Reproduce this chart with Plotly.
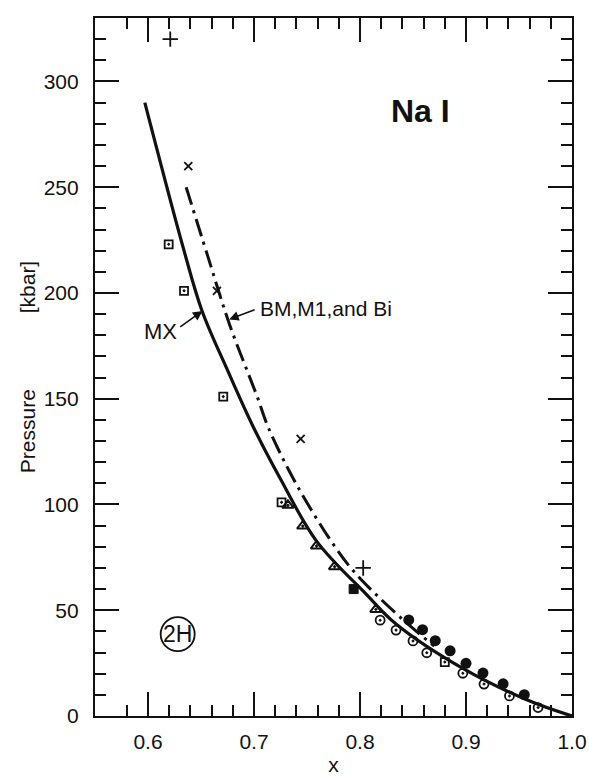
import plotly.graph_objects as go

# Equation-of-state curves for NaI: pressure (kbar) vs relative volume x = V/V0
mx_x = [0.597, 0.634, 0.651, 0.675, 0.699, 0.725, 0.759, 0.806, 0.834, 0.897, 0.959, 1.0]
mx_p = [290, 220, 191.5, 163.5, 137, 112, 82.7, 57.5, 43.5, 22.5, 7.3, 0]

bm_x = [0.636, 0.656, 0.677, 0.703, 0.713, 0.732, 0.751, 0.773, 0.793, 0.816, 0.844, 0.87]
bm_p = [250, 218, 185, 151, 137, 117, 100, 82.5, 69, 57, 44, 33]

# Experimental points
plus_x = [0.621, 0.803]
plus_p = [320, 70]

cross_x = [0.638, 0.665, 0.744]
cross_p = [260, 201, 131]

sq_x = [0.6195, 0.634, 0.671, 0.726, 0.880]
sq_p = [223, 201, 151, 101, 25.5]

sq_fill_x = [0.794]
sq_fill_p = [60]

tri_x = [0.732, 0.746, 0.759, 0.776, 0.815]
tri_p = [99.6, 89.8, 80.4, 70.6, 50.4]

circ_x = [0.819, 0.834, 0.850, 0.863, 0.897, 0.917, 0.941, 0.968]
circ_p = [45.3, 40.6, 35.5, 29.9, 20.2, 15.1, 9.5, 4.0]

dot_x = [0.846, 0.859, 0.871, 0.885, 0.900, 0.916, 0.935, 0.955]
dot_p = [45.4, 40.8, 35.6, 30.8, 24.9, 20.3, 15.2, 10.1]

x_ticks = [0.6, 0.7, 0.8, 0.9, 1.0]
x_labels = ["0.6", "0.7", "0.8", "0.9", "1.0"]
x_minor = [0.58, 0.62, 0.64, 0.66, 0.68, 0.72, 0.74, 0.76, 0.78,
           0.82, 0.84, 0.86, 0.88, 0.92, 0.94, 0.96, 0.98]
y_ticks = [0, 50, 100, 150, 200, 250, 300]

INK = "#111111"
FONT = "Liberation Sans, Arial, sans-serif"

fig = go.Figure()

fig.add_trace(go.Scatter(x=mx_x, y=mx_p, mode="lines", line=dict(color=INK, width=3.2, shape="spline", smoothing=1.0)))
fig.add_trace(go.Scatter(x=bm_x, y=bm_p, mode="lines",
                         line=dict(color=INK, width=3, shape="spline", smoothing=1.0, dash="18px,6px,3px,6px")))

fig.add_trace(go.Scatter(x=plus_x, y=plus_p, mode="markers",
                         marker=dict(symbol="cross-thin-open", size=11, color=INK, line=dict(color=INK, width=1.8))))
fig.add_trace(go.Scatter(x=cross_x, y=cross_p, mode="markers",
                         marker=dict(symbol="x-thin-open", size=8, color=INK, line=dict(color=INK, width=1.8))))
fig.add_trace(go.Scatter(x=sq_x, y=sq_p, mode="markers",
                         marker=dict(symbol="square-open-dot", size=8, color=INK, line=dict(color=INK, width=1.8))))
fig.add_trace(go.Scatter(x=sq_fill_x, y=sq_fill_p, mode="markers",
                         marker=dict(symbol="square", size=9, color=INK, line=dict(color=INK, width=1))))
fig.add_trace(go.Scatter(x=tri_x, y=tri_p, mode="markers",
                         marker=dict(symbol="triangle-up-open-dot", size=10, color=INK, line=dict(color=INK, width=2))))
fig.add_trace(go.Scatter(x=circ_x, y=circ_p, mode="markers",
                         marker=dict(symbol="circle-open-dot", size=9, color=INK, line=dict(color=INK, width=1.8))))
fig.add_trace(go.Scatter(x=dot_x, y=dot_p, mode="markers",
                         marker=dict(symbol="circle", size=11, color=INK, line=dict(color=INK, width=0))))

axis_common = dict(
    showline=True, linecolor=INK, linewidth=2.2, mirror="ticks",
    ticks="inside", tickcolor=INK, tickwidth=2, ticklen=24,
    showgrid=False, zeroline=False, automargin=False,
    tickfont=dict(family=FONT, size=21, color=INK),
)

fig.update_xaxes(
    range=[0.55, 1.0], tickvals=x_ticks, ticktext=x_labels,
    minor=dict(tickvals=x_minor, ticks="inside", ticklen=11, tickcolor=INK, tickwidth=2),
    ticklabelstandoff=6,
    title=dict(text="x", font=dict(family=FONT, size=21, color=INK), standoff=12),
    **axis_common,
)
fig.update_yaxes(
    range=[0, 330], tickvals=y_ticks,
    minor=dict(dtick=10, tick0=0, ticks="inside", ticklen=11, tickcolor=INK, tickwidth=2),
    ticklabelstandoff=10,
    title=dict(text="Pressure" + "\u00a0" * 13 + "[kbar]", font=dict(family=FONT, size=21, color=INK), standoff=2),
    **axis_common,
)

# Labels and arrows
fig.add_annotation(x=0.8566, y=286, text="<b>Na I</b>", showarrow=False,
                   font=dict(family=FONT, size=32, color=INK))
fig.add_annotation(x=0.612, y=182, text="MX", showarrow=False,
                   font=dict(family=FONT, size=22, color=INK))
fig.add_annotation(x=0.7675, y=192.5, text="BM,M1,and Bi", showarrow=False,
                   font=dict(family=FONT, size=21, color=INK))
fig.add_annotation(x=0.6514, y=191.5, ax=0.629, ay=183.5, axref="x", ayref="y", text="",
                   showarrow=True, arrowhead=2, arrowsize=1.2, arrowwidth=1.6, arrowcolor=INK)
fig.add_annotation(x=0.6765, y=187.5, ax=0.702, ay=192.3, axref="x", ayref="y", text="",
                   showarrow=True, arrowhead=2, arrowsize=1.2, arrowwidth=1.6, arrowcolor=INK)

# Circled "2H" tag
fig.add_shape(type="circle", xref="x", yref="y", xsizemode="pixel", ysizemode="pixel",
              xanchor=0.628, yanchor=38.7, x0=-17, x1=17, y0=-17, y1=17,
              line=dict(color=INK, width=1.8))
fig.add_annotation(x=0.628, y=38.7, text="2H", showarrow=False,
                   font=dict(family=FONT, size=23, color=INK))

fig.update_layout(
    width=589, height=776,
    margin=dict(l=95, r=17, t=18, b=60),
    paper_bgcolor="white", plot_bgcolor="white",
    showlegend=False,
)

fig.write_html("out.html")
